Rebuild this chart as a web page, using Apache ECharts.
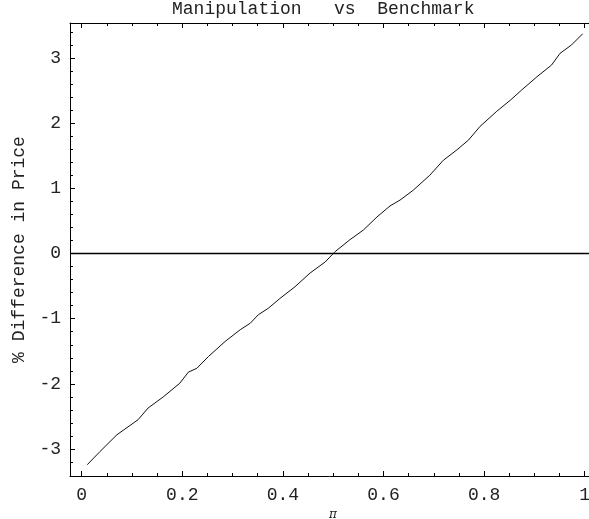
<!DOCTYPE html>
<html>
<head>
<meta charset="utf-8">
<script src="https://cdn.jsdelivr.net/npm/echarts@6/dist/echarts.min.js"></script>
<style>
html,body{margin:0;padding:0;background:#fff;}
#c{width:589px;height:519px;}
</style>
</head>
<body>
<div id="c"></div>
<script>
// Data
var piValues = [0.011, 0.036, 0.070, 0.112, 0.132, 0.162, 0.195, 0.212, 0.229, 0.252, 0.285, 0.315, 0.335, 0.351, 0.371, 0.394, 0.424, 0.454, 0.484, 0.504, 0.533, 0.560, 0.587, 0.613, 0.633, 0.659, 0.692, 0.719, 0.746, 0.769, 0.792, 0.825, 0.852, 0.875, 0.905, 0.934, 0.951, 0.974, 0.996];
var pctDiff = [-3.24, -3.04, -2.78, -2.55, -2.37, -2.20, -1.99, -1.82, -1.76, -1.58, -1.35, -1.17, -1.07, -0.94, -0.84, -0.69, -0.51, -0.30, -0.13, 0.03, 0.21, 0.36, 0.56, 0.73, 0.82, 0.97, 1.20, 1.43, 1.59, 1.74, 1.95, 2.18, 2.35, 2.51, 2.71, 2.89, 3.07, 3.20, 3.37];
var xMajorTicks = [0, 0.2, 0.4, 0.6, 0.8, 1];
var xMinorTicks = [0.05, 0.1, 0.15, 0.25, 0.3, 0.35, 0.45, 0.5, 0.55, 0.65, 0.7, 0.75, 0.85, 0.9, 0.95];
var yMajorTicks = [-3, -2, -1, 0, 1, 2, 3];
var yMinorTicks = [-3.2, -2.8, -2.6, -2.4, -2.2, -1.8, -1.6, -1.4, -1.2, -0.8, -0.6, -0.4, -0.2, 0.2, 0.4, 0.6, 0.8, 1.2, 1.4, 1.6, 1.8, 2.2, 2.4, 2.6, 2.8, 3.2, 3.4];
var xLabels = ['0', '0.2', '0.4', '0.6', '0.8', '1'];
var yLabels = ['-3', '-2', '-1', '0', '1', '2', '3'];
var titleText = 'Manipulation   vs  Benchmark';
var xName = 'π';
var yName = '% Difference in Price';

var X_MIN = -0.02326, X_MAX = 1.00855;
var Y_MIN = -3.4126, Y_MAX = 3.5353;
var MONO = '"Liberation Mono", "DejaVu Sans Mono", monospace';
var INK = '#000';
var TXT = '#222';

function fmtX(v){ var i = xMajorTicks.indexOf(Math.round(v*10)/10); return i >= 0 ? xLabels[i] : ''; }
function fmtY(v){ var i = yMajorTicks.indexOf(Math.round(v)); return i >= 0 ? yLabels[i] : ''; }

function xAx(pos, ticks, len, withLine, withLabel, extra){
  var o = {
    type: 'value', position: pos, min: X_MIN, max: X_MAX, gridIndex: 0,
    splitLine: {show: false},
    axisLine: {show: withLine, onZero: false, lineStyle: {color: INK, width: 1}},
    axisTick: {show: true, inside: true, length: len, customValues: ticks, lineStyle: {color: INK, width: 1}},
    axisLabel: withLabel ? {show: true, customValues: ticks, formatter: fmtX, margin: 10, color: TXT, fontFamily: MONO, fontSize: 18, showMinLabel: true, showMaxLabel: true} : {show: false}
  };
  for (var k in extra) o[k] = extra[k];
  return o;
}
function yAx(ticks, len, withLine, withLabel, extra){
  var o = {
    type: 'value', position: 'left', min: Y_MIN, max: Y_MAX, gridIndex: 0,
    splitLine: {show: false},
    axisLine: {show: withLine, onZero: false, lineStyle: {color: INK, width: 1}},
    axisTick: {show: true, inside: true, length: len, customValues: ticks, lineStyle: {color: INK, width: 1}},
    axisLabel: withLabel ? {show: true, customValues: ticks, formatter: fmtY, margin: 9, color: TXT, fontFamily: MONO, fontSize: 18} : {show: false}
  };
  for (var k in extra) o[k] = extra[k];
  return o;
}

var chart = echarts.init(document.getElementById('c'), null, {renderer: 'canvas'});
chart.setOption({
  animation: false,
  backgroundColor: '#fff',
  title: {
    text: titleText, left: 172, top: 0, padding: 0,
    textStyle: {fontFamily: MONO, fontSize: 18, fontWeight: 'normal', color: TXT}
  },
  grid: {left: 70, top: 23, right: 0, bottom: 43, containLabel: false, outerBoundsMode: 'none'},
  xAxis: [
    xAx('bottom', xMajorTicks, 5, true, true, {
      name: xName, nameLocation: 'middle', nameGap: 29,
      nameTextStyle: {fontFamily: '"DejaVu Serif", serif', fontStyle: 'italic', fontSize: 12, color: TXT, padding: [0, 0, 0, 7]}
    }),
    xAx('bottom', xMinorTicks, 3, false, false, {}),
    xAx('top', xMajorTicks, 5, true, false, {}),
    xAx('top', xMinorTicks, 3, false, false, {})
  ],
  yAxis: [
    yAx(yMajorTicks, 5, true, true, {
      name: yName, nameLocation: 'middle', nameGap: 42, nameRotate: 90,
      nameTextStyle: {fontFamily: MONO, fontSize: 18, color: TXT}
    }),
    yAx(yMinorTicks, 3, false, false, {})
  ],
  series: [{
    type: 'line',
    xAxisIndex: 0, yAxisIndex: 0,
    data: piValues.map(function(x, i){ return [x, pctDiff[i]]; }),
    showSymbol: false, symbol: 'none',
    lineStyle: {color: '#111', width: 1},
    markLine: {
      silent: true, symbol: 'none', label: {show: false},
      lineStyle: {color: INK, width: 1.3, type: 'solid'},
      data: [{yAxis: 0}]
    }
  }]
});
</script>
</body>
</html>
